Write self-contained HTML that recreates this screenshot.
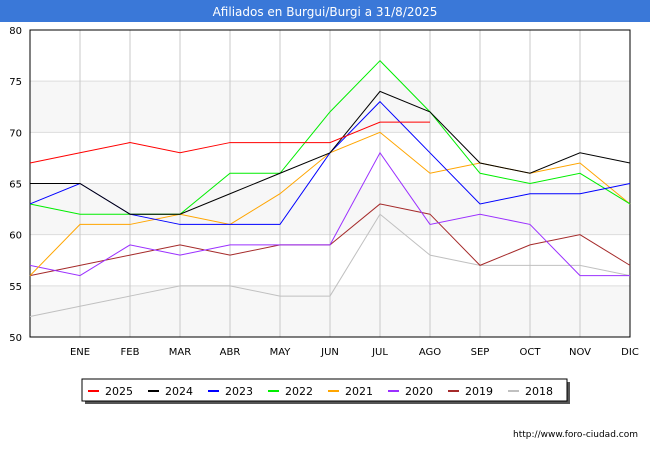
<!DOCTYPE html>
<html><head><meta charset="utf-8"><style>
body{margin:0;width:650px;height:450px;background:#fff;font-family:"DejaVu Sans",sans-serif;overflow:hidden}
</style></head><body>
<svg id="c" width="650" height="450" font-family="DejaVu Sans, sans-serif">
<rect x="0" y="0" width="650" height="22" fill="#3a78d8"/>
<text x="325" y="16" text-anchor="middle" fill="#fff" font-size="12">Afiliados en Burgui/Burgi a 31/8/2025</text>
<g id="plot"></g>
<text x="638" y="437" text-anchor="end" font-size="9" fill="#000">http://www.foro-ciudad.com</text>
</svg>
<script>
const months=["","ENE","FEB","MAR","ABR","MAY","JUN","JUL","AGO","SEP","OCT","NOV","DIC"];
const yTicks=[50,55,60,65,70,75,80];
const seriesNames=["2025","2024","2023","2022","2021","2020","2019","2018"];
const seriesColors=["#ff0000","#000000","#0000ff","#00ee00","#ffa500","#9b30ff","#a52a2a","#c0c0c0"];
const s2025=[67,68,69,68,69,69,69,71,71];
const s2024=[65,65,62,62,64,66,68,74,72,67,66,68,67];
const s2023=[63,65,62,61,61,61,68,73,68,63,64,64,65];
const s2022=[63,62,62,62,66,66,72,77,72,66,65,66,63];
const s2021=[56,61,61,62,61,64,68,70,66,67,66,67,63];
const s2020=[57,56,59,58,59,59,59,68,61,62,61,56,56];
const s2019=[56,57,58,59,58,59,59,63,62,57,59,60,57];
const s2018=[52,53,54,55,55,54,54,62,58,57,57,57,56];
const allSeries=[s2025,s2024,s2023,s2022,s2021,s2020,s2019,s2018];
const NS="http://www.w3.org/2000/svg";
const L=30,R=630,T=30,B=337,ymin=50,ymax=80;
const x=i=>L+i*(R-L)/(months.length-1);
const y=v=>B-(v-ymin)/(ymax-ymin)*(B-T);
const g=document.getElementById('plot');
function mk(t,a){const e=document.createElementNS(NS,t);for(const k in a)e.setAttribute(k,a[k]);g.appendChild(e);return e;}
for(let i=0;i<yTicks.length-1;i++){
  if(i%2==0){const r=mk('rect',{x:L,y:y(yTicks[i+1]),width:R-L,height:y(yTicks[i])-y(yTicks[i+1]),fill:'#f7f7f7'});
  
  }
}
yTicks.forEach(v=>{
  const l=mk('line',{x1:L,x2:R,y1:y(v),y2:y(v),stroke:'#ddd'});
  
  
  const t=mk('text',{x:L-8,y:y(v)+4,'text-anchor':'end','font-size':10});t.textContent=v;
  
  
});
months.forEach((m,i)=>{
  const l=mk('line',{x1:x(i),x2:x(i),y1:T,y2:B,stroke:'#c8c8c8'});
  
  
  if(m){const t=mk('text',{x:x(i),y:355,'text-anchor':'middle','font-size':10});t.textContent=m;
  
  }
});
const fr=mk('rect',{x:L,y:T,width:R-L,height:B-T,fill:'none',stroke:'#000'});


for(let k=allSeries.length-1;k>=0;k--){
  const p=mk('polyline',{points:allSeries[k].map((v,i)=>x(i)+','+y(v)).join(' '),fill:'none',stroke:seriesColors[k],'stroke-width':1});
  
  
}
const sh=mk('rect',{x:85,y:382,width:485,height:22,fill:'#555'});


const lb=mk('rect',{x:82,y:379,width:485,height:22,fill:'#fff',stroke:'#000'});


seriesNames.forEach((n,k)=>{
  const lx=88+k*60;
  const ln=mk('line',{x1:lx,x2:lx+11,y1:391,y2:391,stroke:seriesColors[k],'stroke-width':2});
  
  
  const t=mk('text',{x:lx+17,y:395,'font-size':11});t.textContent=n;
  
  
});
</script>
</body></html>
